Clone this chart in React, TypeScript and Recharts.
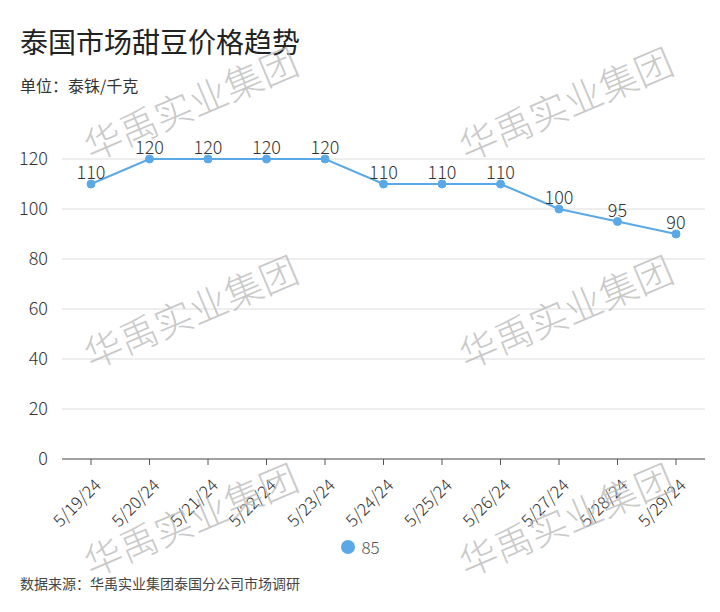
import React from 'react';
import { LineChart, Line, XAxis, YAxis, CartesianGrid, LabelList, Legend } from 'recharts';

const dates = ['5/19/24', '5/20/24', '5/21/24', '5/22/24', '5/23/24', '5/24/24', '5/25/24', '5/26/24', '5/27/24', '5/28/24', '5/29/24'];
const prices = [110, 120, 120, 120, 120, 110, 110, 110, 100, 95, 90];
const yTicks = [0, 20, 40, 60, 80, 100, 120];
const seriesName = '85';

const title = '泰国市场甜豆价格趋势';
const unit = '单位：泰铢/千克';
const source = '数据来源：华禹实业集团泰国分公司市场调研';
const watermark = '华禹实业集团';

const data = dates.map((d, i) => ({ date: d, value: prices[i] }));

const FONT = '"Noto Sans CJK SC", "Noto Sans", sans-serif';
const BLUE = '#5aa9e6';

const XTick = (props: any) => {
  const { x, y, payload } = props;
  return (
    <g transform={`translate(${x - 3},${y + 8})`}>
      <text x={2} y={2} textAnchor="end" fill="#333" fontSize={17} fontWeight={300} fontFamily={FONT} transform="rotate(-45)" dominantBaseline="hanging">
        {payload.value}
      </text>
    </g>
  );
};

const LegendContent = () => (
  <div style={{ display: 'flex', justifyContent: 'center', alignItems: 'center', height: 20, fontFamily: FONT }}>
    <svg width={16} height={16} style={{ marginRight: 5 }}>
      <circle cx={8} cy={8} r={7} fill={BLUE} />
    </svg>
    <span style={{ fontSize: 17, color: '#555', lineHeight: '20px', fontWeight: 300 }}>{seriesName}</span>
  </div>
);

const wmPos = [
  [190, 102], [565, 102],
  [190, 310], [565, 310],
  [190, 518], [565, 518],
];

export default function App() {
  return (
    <div style={{ position: 'absolute', left: 0, top: 0, width: 720, height: 612, background: '#fff', fontFamily: FONT }}>
      <div style={{ position: 'absolute', left: 20, top: 22, fontSize: 28, color: '#222', lineHeight: '38px' }}>{title}</div>
      <div style={{ position: 'absolute', left: 20, top: 74, fontSize: 16, color: '#333', lineHeight: '22px' }}>{unit}</div>
      <div style={{ position: 'absolute', left: 20, top: 573, fontSize: 14, color: '#444', lineHeight: '20px' }}>{source}</div>
      <div style={{ position: 'absolute', left: 0, top: 0 }}>
        <LineChart width={720} height={612} data={data} margin={{ top: 159, right: 15, left: 0, bottom: 63 }}>
          <CartesianGrid vertical={false} stroke="#ddd" />
          <XAxis
            dataKey="date"
            padding={{ left: 29, right: 29 }}
            tick={<XTick />}
            tickLine={{ stroke: '#555' }}
            axisLine={{ stroke: '#555' }}
            tickSize={6}
            height={70}
            interval={0}
          />
          <YAxis
            domain={[0, 120]}
            ticks={yTicks}
            width={62}
            axisLine={false}
            tickLine={false}
            tick={{ fill: '#333', fontSize: 18, fontWeight: 300, fontFamily: FONT }}
            tickMargin={8}
          />
          <Legend content={<LegendContent />} wrapperStyle={{ position: 'absolute', top: 537, left: 0, width: 720, height: 20 }} />
          <Line
            type="linear"
            dataKey="value"
            name={seriesName}
            stroke={BLUE}
            strokeWidth={2}
            dot={{ r: 4, fill: BLUE, stroke: BLUE, strokeWidth: 1 }}
            isAnimationActive={false}
          >
            <LabelList dataKey="value" position="top" offset={5} fill="#333" fontSize={18} fontWeight={300} fontFamily={FONT} />
          </Line>
        </LineChart>
      </div>
      <svg width={720} height={612} style={{ position: 'absolute', left: 0, top: 0, pointerEvents: 'none' }}>
        {wmPos.map(([cx, cy], i) => (
          <text
            key={i}
            x={cx}
            y={cy}
            textAnchor="middle"
            dominantBaseline="central"
            fontSize={38}
            fontWeight={300}
            fontFamily={FONT}
            fill="#b8b8b8"
            fillOpacity={0.75}
            transform={`rotate(-23, ${cx}, ${cy})`}
          >
            {watermark}
          </text>
        ))}
      </svg>
    </div>
  );
}
